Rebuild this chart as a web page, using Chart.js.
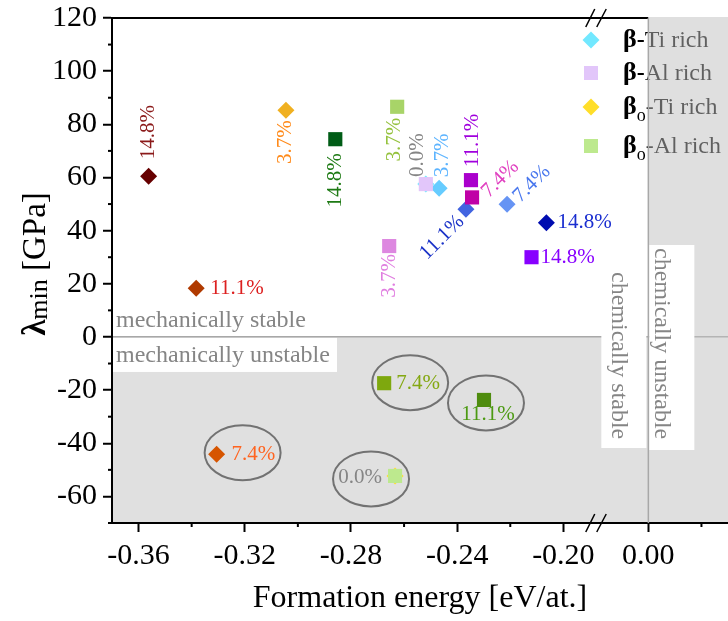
<!DOCTYPE html>
<html>
<head>
<meta charset="utf-8">
<script src="https://cdn.jsdelivr.net/npm/chart.js@4.4.1/dist/chart.umd.min.js"></script>
<style>
html, body { margin: 0; padding: 0; background: #fff; }
#wrap { width: 728px; height: 621px; }
</style>
</head>
<body>
<div id="wrap"><canvas id="myChart" width="728" height="621"></canvas></div>
<script>
// datos
const composiciones = ['0.0%', '3.7%', '7.4%', '11.1%', '14.8%'];
const nombresSeries = ['β-Ti rich', 'β-Al rich', 'βo-Ti rich', 'βo-Al rich'];

const energiaBetaTi = [-0.2518, -0.2468, -0.2212, -0.2367, -0.2064];
const lambdaBetaTi = [57.5, 55.9, 49.9, 48.0, 43.0];
const energiaBetaAl = [-0.2518, -0.2656, -0.2344, -0.2348, -0.2120];
const lambdaBetaAl = [57.5, 34.2, 52.5, 59.0, 30.0];
const energiaBetaOTi = [-0.2634, -0.3045, -0.3306, -0.3383, -0.3562];
const lambdaBetaOTi = [-52.3, 85.3, -44.1, 18.3, 60.5];
const energiaBetaOAl = [-0.2634, -0.2626, -0.2675, -0.2299, -0.2859];
const lambdaBetaOAl = [-52.3, 86.6, -17.4, -23.7, 74.4];

const ticksX = [-0.36, -0.32, -0.28, -0.24, -0.20, 0.00];
const ticksXMenores = [-0.34, -0.30, -0.26, -0.22, 0.02];
const ticksY = [-60, -40, -20, 0, 20, 40, 60, 80, 100, 120];
const ticksYMenores = [-70, -50, -30, -10, 10, 30, 50, 70, 90, 110];

// eje x cortado: de -0.188 salta a -0.02
const corteDesde = -0.188;
const corteHasta = -0.02;
const salto = corteHasta - corteDesde;
function aEje(x) { return x <= corteDesde ? x : x - salto; }
function desdeEje(t) { return t <= corteDesde + 1e-9 ? t : t + salto; }

const fuente = '"Liberation Serif", "Times New Roman", serif';
const grisTexto = '#858585';

// estilos de cada serie (colores de puntos y etiquetas)
const estilos = [
    { forma: 'rectRot', orden: 2,
      colores: ['#72e8ff', '#66ccff', '#6694f4', '#4264e0', '#000cb0'],
      etiquetas: [
          null,
          { pos: 'arriba', d: 11, dx: 3, color: '#5cb4ff' },
          { pos: 'diagArriba', d: 10, dy: 3, color: '#4a78ee' },
          { pos: 'diagAbajo', d: 10, dy: 3, color: '#1b33c8' },
          { pos: 'derecha', d: 11, color: '#1a2ed0' }
      ] },
    { forma: 'rect', orden: 1,
      colores: ['#e2c6fa', '#dd88e0', '#c000a6', '#aa00cc', '#8800ff'],
      etiquetas: [
          { pos: 'arriba', d: 7, dx: -8, color: grisTexto },
          { pos: 'abajo', d: 8, dx: 0, color: '#e07ee0' },
          { pos: 'diagArriba', d: 11, dy: 7, color: '#e040c0' },
          { pos: 'arriba', d: 13, dx: 2, color: '#a000dd' },
          { pos: 'derecha', d: 9, color: '#8800ff' }
      ] },
    { forma: 'rectRot', orden: 2,
      colores: ['#ffde2a', '#f0b020', '#d65500', '#b03a00', '#660000'],
      etiquetas: [
          { pos: 'izquierda', d: 13, dy: 2, color: grisTexto, elipse: [-24, 3] },
          { pos: 'abajo', d: 10, dx: 0, color: '#ff8a1a' },
          { pos: 'derecha', d: 15, color: '#ff6420', elipse: [26, -1.5] },
          { pos: 'derecha', d: 14, color: '#dd2020' },
          { pos: 'arriba', d: 17, dx: 0, color: '#8b1a1a' }
      ] },
    { forma: 'rect', orden: 1,
      colores: ['#bde98e', '#a8d468', '#7ea80e', '#4e8c0e', '#005c16'],
      etiquetas: [
          null,
          { pos: 'abajo', d: 11, dx: -3, color: '#95c23e' },
          { pos: 'derecha', d: 12, color: '#84a812', elipse: [26, -0.5] },
          { pos: 'debajo', d: 15, dx: 4, color: '#4c9a12', elipse: [2, 3] },
          { pos: 'abajo', d: 14, dx: 0, color: '#1e7a14' }
      ] }
];

const energias = [energiaBetaTi, energiaBetaAl, energiaBetaOTi, energiaBetaOAl];
const lambdas = [lambdaBetaTi, lambdaBetaAl, lambdaBetaOTi, lambdaBetaOAl];

function dibujarEtiqueta(ctx, texto, px, py, e) {
    var d = e.d, dx = e.dx || 0, dy = e.dy || 0;
    ctx.save();
    ctx.fillStyle = e.color;
    ctx.font = '21px ' + fuente;
    ctx.textBaseline = 'middle';
    switch (e.pos) {
        case 'arriba':
            ctx.translate(px + dx, py - d); ctx.rotate(-Math.PI / 2);
            ctx.textAlign = 'left'; ctx.fillText(texto, 0, 0); break;
        case 'abajo':
            ctx.translate(px + dx, py + d); ctx.rotate(-Math.PI / 2);
            ctx.textAlign = 'right'; ctx.fillText(texto, 0, 0); break;
        case 'derecha':
            ctx.textAlign = 'left'; ctx.fillText(texto, px + d, py + dy); break;
        case 'izquierda':
            ctx.textAlign = 'right'; ctx.fillText(texto, px - d, py + dy); break;
        case 'debajo':
            ctx.textAlign = 'center'; ctx.fillText(texto, px + dx, py + d); break;
        case 'diagArriba':
            ctx.translate(px, py); ctx.rotate(-Math.PI / 4);
            ctx.textAlign = 'left'; ctx.fillText(texto, d, dy); break;
        case 'diagAbajo':
            ctx.translate(px, py); ctx.rotate(-Math.PI / 4);
            ctx.textAlign = 'right'; ctx.fillText(texto, -d, dy); break;
    }
    ctx.restore();
}

function marcador(ctx, forma, color, x, y) {
    ctx.save();
    ctx.fillStyle = color;
    ctx.beginPath();
    if (forma === 'rectRot') {
        var r = 8.5;
        ctx.moveTo(x, y - r); ctx.lineTo(x + r, y); ctx.lineTo(x, y + r); ctx.lineTo(x - r, y);
        ctx.closePath();
    } else {
        var s = 7;
        ctx.rect(x - s, y - s, 2 * s, 2 * s);
    }
    ctx.fill();
    ctx.restore();
}

function textoBox(ctx, texto, x, y, girado) {
    ctx.save();
    ctx.fillStyle = grisTexto;
    ctx.font = '24px ' + fuente;
    ctx.textAlign = 'left';
    ctx.textBaseline = 'alphabetic';
    ctx.translate(x, y);
    if (girado) ctx.rotate(Math.PI / 2);
    ctx.fillText(texto, 0, 0);
    ctx.restore();
}

function linea(ctx, x1, y1, x2, y2, color, ancho) {
    ctx.save();
    ctx.strokeStyle = color;
    ctx.lineWidth = ancho;
    ctx.beginPath();
    ctx.moveTo(x1, y1);
    ctx.lineTo(x2, y2);
    ctx.stroke();
    ctx.restore();
}

const decorado = {
    id: 'decorado',
    beforeDraw: function(chart) {
        const ctx = chart.ctx, a = chart.chartArea;
        const x0 = chart.scales.x.getPixelForValue(aEje(0));
        const y0 = chart.scales.y.getPixelForValue(0);
        ctx.save();
        ctx.fillStyle = '#e0e0e0';
        ctx.fillRect(a.left, y0, x0 - a.left, a.bottom - y0);
        ctx.restore();
    },
    beforeDatasetsDraw: function(chart) {
        const ctx = chart.ctx;
        estilos.forEach(function(est, k) {
            const meta = chart.getDatasetMeta(k);
            est.etiquetas.forEach(function(e, i) {
                if (!e || !e.elipse) return;
                const p = meta.data[i];
                ctx.save();
                ctx.strokeStyle = '#727272';
                ctx.lineWidth = 2;
                ctx.beginPath();
                ctx.ellipse(p.x + e.elipse[0], p.y + e.elipse[1], 38, 27.5, 0, 0, 2 * Math.PI);
                ctx.stroke();
                ctx.restore();
            });
        });
    },
    afterDatasetsDraw: function(chart) {
        const ctx = chart.ctx;
        estilos.forEach(function(est, k) {
            const meta = chart.getDatasetMeta(k);
            est.etiquetas.forEach(function(e, i) {
                if (!e) return;
                dibujarEtiqueta(ctx, composiciones[i], meta.data[i].x, meta.data[i].y, e);
            });
        });
    },
    afterDraw: function(chart) {
        const ctx = chart.ctx, a = chart.chartArea;
        const sx = chart.scales.x, sy = chart.scales.y;
        const x0 = sx.getPixelForValue(aEje(0));
        const y0 = sy.getPixelForValue(0);

        // ticks menores
        ticksXMenores.forEach(function(v) {
            const px = sx.getPixelForValue(aEje(v));
            linea(ctx, px, a.bottom, px, a.bottom + 4, '#000', 2);
        });
        ticksYMenores.forEach(function(v) {
            const py = sy.getPixelForValue(v);
            linea(ctx, a.left - 4, py, a.left, py, '#000', 2);
        });

        // borde de arriba
        linea(ctx, a.left - 1, a.top, x0, a.top, '#000', 2);

        // leyenda
        const filas = [40, 73, 107, 146];
        nombresSeries.forEach(function(nombre, k) {
            const y = filas[k];
            marcador(ctx, estilos[k].forma, estilos[k].colores[0], 591, y);
            var x = 623, base = y + 7;
            ctx.save();
            ctx.fillStyle = '#000';
            ctx.textBaseline = 'alphabetic';
            ctx.textAlign = 'left';
            ctx.font = 'bold 26px ' + fuente;
            ctx.fillText(nombre[0], x, base);
            x += ctx.measureText(nombre[0]).width;
            var resto = nombre.slice(1);
            if (resto[0] === 'o') {
                ctx.font = '18px ' + fuente;
                ctx.fillText('o', x, base + 7);
                x += ctx.measureText('o').width;
                resto = resto.slice(1);
                ctx.font = '24px ' + fuente;
                ctx.fillText(resto, x, base);
            } else {
                ctx.font = 'bold 24px ' + fuente;
                ctx.fillText('-', x, base);
                x += ctx.measureText('-').width;
                ctx.font = '24px ' + fuente;
                ctx.fillText(resto.slice(1), x, base);
            }
            ctx.restore();
        });

        // zona quimicamente inestable
        ctx.save();
        ctx.fillStyle = 'rgba(192,192,192,0.5)';
        ctx.fillRect(x0, a.top - 1, a.right - x0, a.bottom - a.top);
        ctx.restore();
        linea(ctx, x0, a.top, x0, a.bottom, '#a8a8a8', 1.5);

        // cajas de texto
        ctx.save();
        ctx.fillStyle = '#fff';
        ctx.fillRect(a.left + 1, y0 + 1, 224, 34);
        ctx.fillRect(x0 - 47, 265, 45, 183);
        ctx.fillRect(x0 + 1, 245, 45, 205);
        ctx.restore();
        textoBox(ctx, 'mechanically stable', a.left + 4, y0 - 10, false);
        textoBox(ctx, 'mechanically unstable', a.left + 4, y0 + 25, false);
        textoBox(ctx, 'chemically stable', x0 - 36, 272, true);
        textoBox(ctx, 'chemically unstable', x0 + 7, 248, true);

        // marcas de corte
        const xb = sx.getPixelForValue(corteDesde);
        [a.top, a.bottom].forEach(function(yc) {
            linea(ctx, xb - 9.5, yc + 9, xb - 0.5, yc - 9, '#000', 1.5);
            linea(ctx, xb + 1.5, yc + 9, xb + 11, yc - 9, '#000', 1.5);
        });

        // titulos
        ctx.save();
        ctx.fillStyle = '#000';
        ctx.font = '32px ' + fuente;
        ctx.textAlign = 'center';
        ctx.textBaseline = 'alphabetic';
        ctx.fillText('Formation energy [eV/at.]', (a.left + a.right) / 2, 607);
        ctx.restore();

        ctx.save();
        ctx.fillStyle = '#000';
        ctx.textAlign = 'left';
        ctx.textBaseline = 'alphabetic';
        ctx.translate(45, 264);
        ctx.rotate(-Math.PI / 2);
        ctx.font = 'bold 33px ' + fuente;
        const wL = ctx.measureText('λ').width;
        ctx.font = '26px ' + fuente;
        const wS = ctx.measureText('min').width;
        ctx.font = '33px ' + fuente;
        const wR = ctx.measureText(' [GPa]').width;
        var inicio = -(wL + wS + wR) / 2;
        ctx.font = 'bold 33px ' + fuente;
        ctx.fillText('λ', inicio, 0);
        ctx.font = '26px ' + fuente;
        ctx.fillText('min', inicio + wL, 2);
        ctx.font = '33px ' + fuente;
        ctx.fillText(' [GPa]', inicio + wL + wS, 0);
        ctx.restore();
    }
};

function chartCreate() {
    const datasets = estilos.map(function(est, k) {
        return {
            label: nombresSeries[k],
            data: energias[k].map(function(v, i) { return { x: aEje(v), y: lambdas[k][i] }; }),
            pointStyle: est.forma,
            pointRadius: est.forma === 'rect' ? 10 : 8.5,
            pointBackgroundColor: est.colores,
            pointBorderWidth: 0,
            showLine: false,
            order: est.orden
        };
    });

    const mayoresX = ticksX.map(aEje);
    const config = {
        type: 'scatter',
        data: { datasets: datasets },
        options: {
            responsive: false,
            animation: false,
            events: [],
            layout: { autoPadding: false, padding: { top: 18, left: 0, right: 0, bottom: 0 } },
            plugins: { legend: { display: false }, tooltip: { enabled: false } },
            scales: {
                x: {
                    type: 'linear',
                    min: aEje(-0.37),
                    max: aEje(0.03),
                    afterBuildTicks: function(scale) {
                        scale.ticks = mayoresX.map(function(v) { return { value: v }; });
                    },
                    afterFit: function(scale) {
                        scale.height = 98;
                        scale.paddingLeft = 0;
                        scale.paddingRight = 0;
                    },
                    border: { color: '#000', width: 2 },
                    grid: { drawOnChartArea: false, tickLength: 9, tickWidth: 2, tickColor: '#000' },
                    ticks: {
                        autoSkip: false, maxRotation: 0, minRotation: 0, padding: 6,
                        color: '#000',
                        font: { family: fuente, size: 30 },
                        callback: function(value) {
                            var real = Math.round(desdeEje(value) * 100) / 100;
                            return (real === 0 ? 0 : real).toFixed(2);
                        }
                    }
                },
                y: {
                    type: 'linear',
                    min: -70,
                    max: 120,
                    afterBuildTicks: function(scale) {
                        scale.ticks = ticksY.map(function(v) { return { value: v }; });
                    },
                    afterFit: function(scale) {
                        scale.width = 112;
                        scale.paddingTop = 0;
                        scale.paddingBottom = 0;
                    },
                    border: { color: '#000', width: 2 },
                    grid: {
                        drawOnChartArea: true, tickLength: 9, tickWidth: 2, tickColor: '#000',
                        lineWidth: 1.5,
                        color: function(c) { return c.tick && c.tick.value === 0 ? '#a8a8a8' : 'rgba(0,0,0,0)'; }
                    },
                    ticks: {
                        padding: 6,
                        color: '#000',
                        font: { family: fuente, size: 30 },
                        callback: function(value) { return String(value); }
                    }
                }
            }
        },
        plugins: [decorado]
    };
    const myChart = new Chart(document.getElementById('myChart'), config);
}

chartCreate();
</script>
</body>
</html>
